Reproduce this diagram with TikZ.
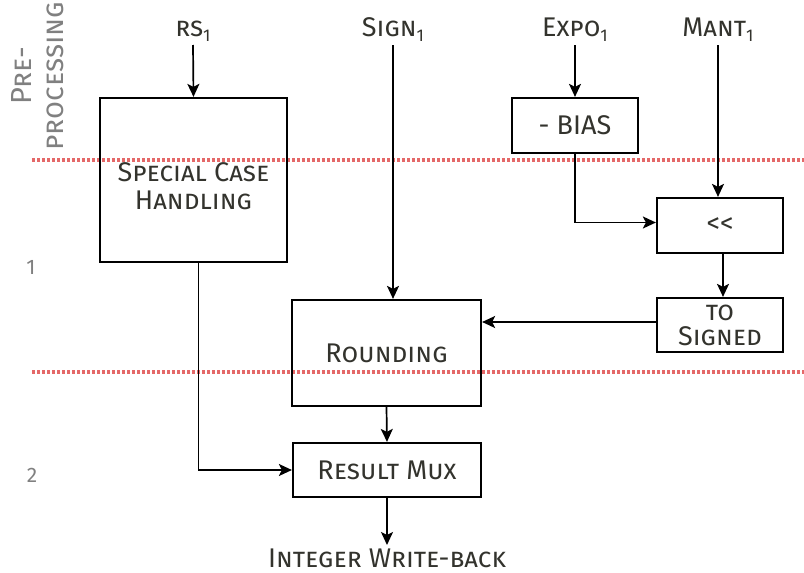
\documentclass[tikz,border=0pt]{standalone}
\usepackage{fontspec}
\setmainfont{Fira Sans}
\usetikzlibrary{arrows.meta}
\definecolor{txt}{RGB}{51,51,45}
\definecolor{stagegray}{RGB}{128,128,128}
\definecolor{stageline}{RGB}{228,104,104}
% small lowered index digit for signal names
\newcommand\sigidx[1]{\raisebox{-2.8pt}{\fontsize{8.5}{8.5}\selectfont #1}}

\begin{document}
\begin{tikzpicture}[x=0.5pt,y=-0.5pt,
  font=\fontsize{13.5}{14}\selectfont, text=txt,
  unit/.style={draw, line width=1.1pt, inner sep=0pt, align=center},
  caption/.style={inner sep=0pt, align=center},
  sig/.style={inner sep=1.5pt, anchor=base},
  conn/.style={line width=0.85pt, -{Stealth[length=6.5pt,width=6pt,inset=1.5pt]}},
  stage/.style={text=stagegray},
  boundary/.style={stageline, line width=1.6pt, dash pattern=on 1.3pt off 1.2pt}]
\useasboundingbox (0,0) rectangle (804,573);

% pipeline stage boundaries
\draw[boundary] (32,160) -- (804,160);
\draw[boundary] (32,372) -- (804,372);

% stage labels
\node[stage, rotate=90, align=center, inner sep=0pt,
      font=\fontsize{14.5}{16}\selectfont] (st0) at (38,76) {P\textsc{re-}\\\textsc{processing}};
\node[stage, inner sep=0pt, font=\fontsize{10.5}{12}\selectfont] (st1) at (31,267) {1};
\node[stage, inner sep=0pt, font=\fontsize{10.5}{12}\selectfont] (st2) at (32,475) {2};

% input signals
\node[sig] (rs)   at (193,36) {\textsc{rs}\sigidx{1}};
\node[sig] (sign) at (393,36) {S\textsc{ign}\sigidx{1}};
\node[sig] (expo) at (575,36) {E\textsc{xpo}\sigidx{1}};
\node[sig] (mant) at (718,36) {M\textsc{ant}\sigidx{1}};

% functional units
\node[unit, minimum width=93.5pt, minimum height=82pt] (sch) at (193.5,180) {};
\node[caption] (schtext) at (193.5,186)
  {S\textsc{pecial} C\textsc{ase}\\H\textsc{andling}};
\node[unit, minimum width=63pt, minimum height=27.5pt] (bias) at (575,125.5) {- BIAS};
\node[unit, minimum width=63pt, minimum height=27.5pt] (shift) at (720,225.5) {<{}<};
\node[unit, minimum width=63pt, minimum height=27pt,
      font=\fontsize{13.5}{12.5}\selectfont] (tosig) at (720,325)
  {\textsc{to}\\S\textsc{igned}};
\node[unit, minimum width=94.5pt, minimum height=53pt] (round) at (386.5,353) {R\textsc{ounding}};
\node[unit, minimum width=94pt, minimum height=27pt] (mux) at (387,470) {R\textsc{esult} M\textsc{ux}};

% result
\node[sig] (out) at (387,567) {I\textsc{nteger} W\textsc{rite-back}};

% connections
\draw[conn] (rs.south) -- (sch.north);
\draw[conn] (sign.south) -- (sign.south |- round.north);
\draw[conn] (expo.south) -- (bias.north);
\draw[conn] (bias.south) |- ([yshift=1.5pt]shift.west);
\draw[conn] (mant.south) -- (mant.south |- shift.north);
\draw[conn] ([xshift=1.5pt]shift.south) -- ([xshift=1.5pt]tosig.north);
\draw[conn] ([yshift=1.5pt]tosig.west) -- ([yshift=1.5pt]tosig.west -| round.east);
\draw[conn] (round.south) -- (mux.north);
\draw[conn] ([xshift=2.5pt]sch.south) |- (mux.west);
\draw[conn] (mux.south) -- (out.north);
\end{tikzpicture}
\end{document}
